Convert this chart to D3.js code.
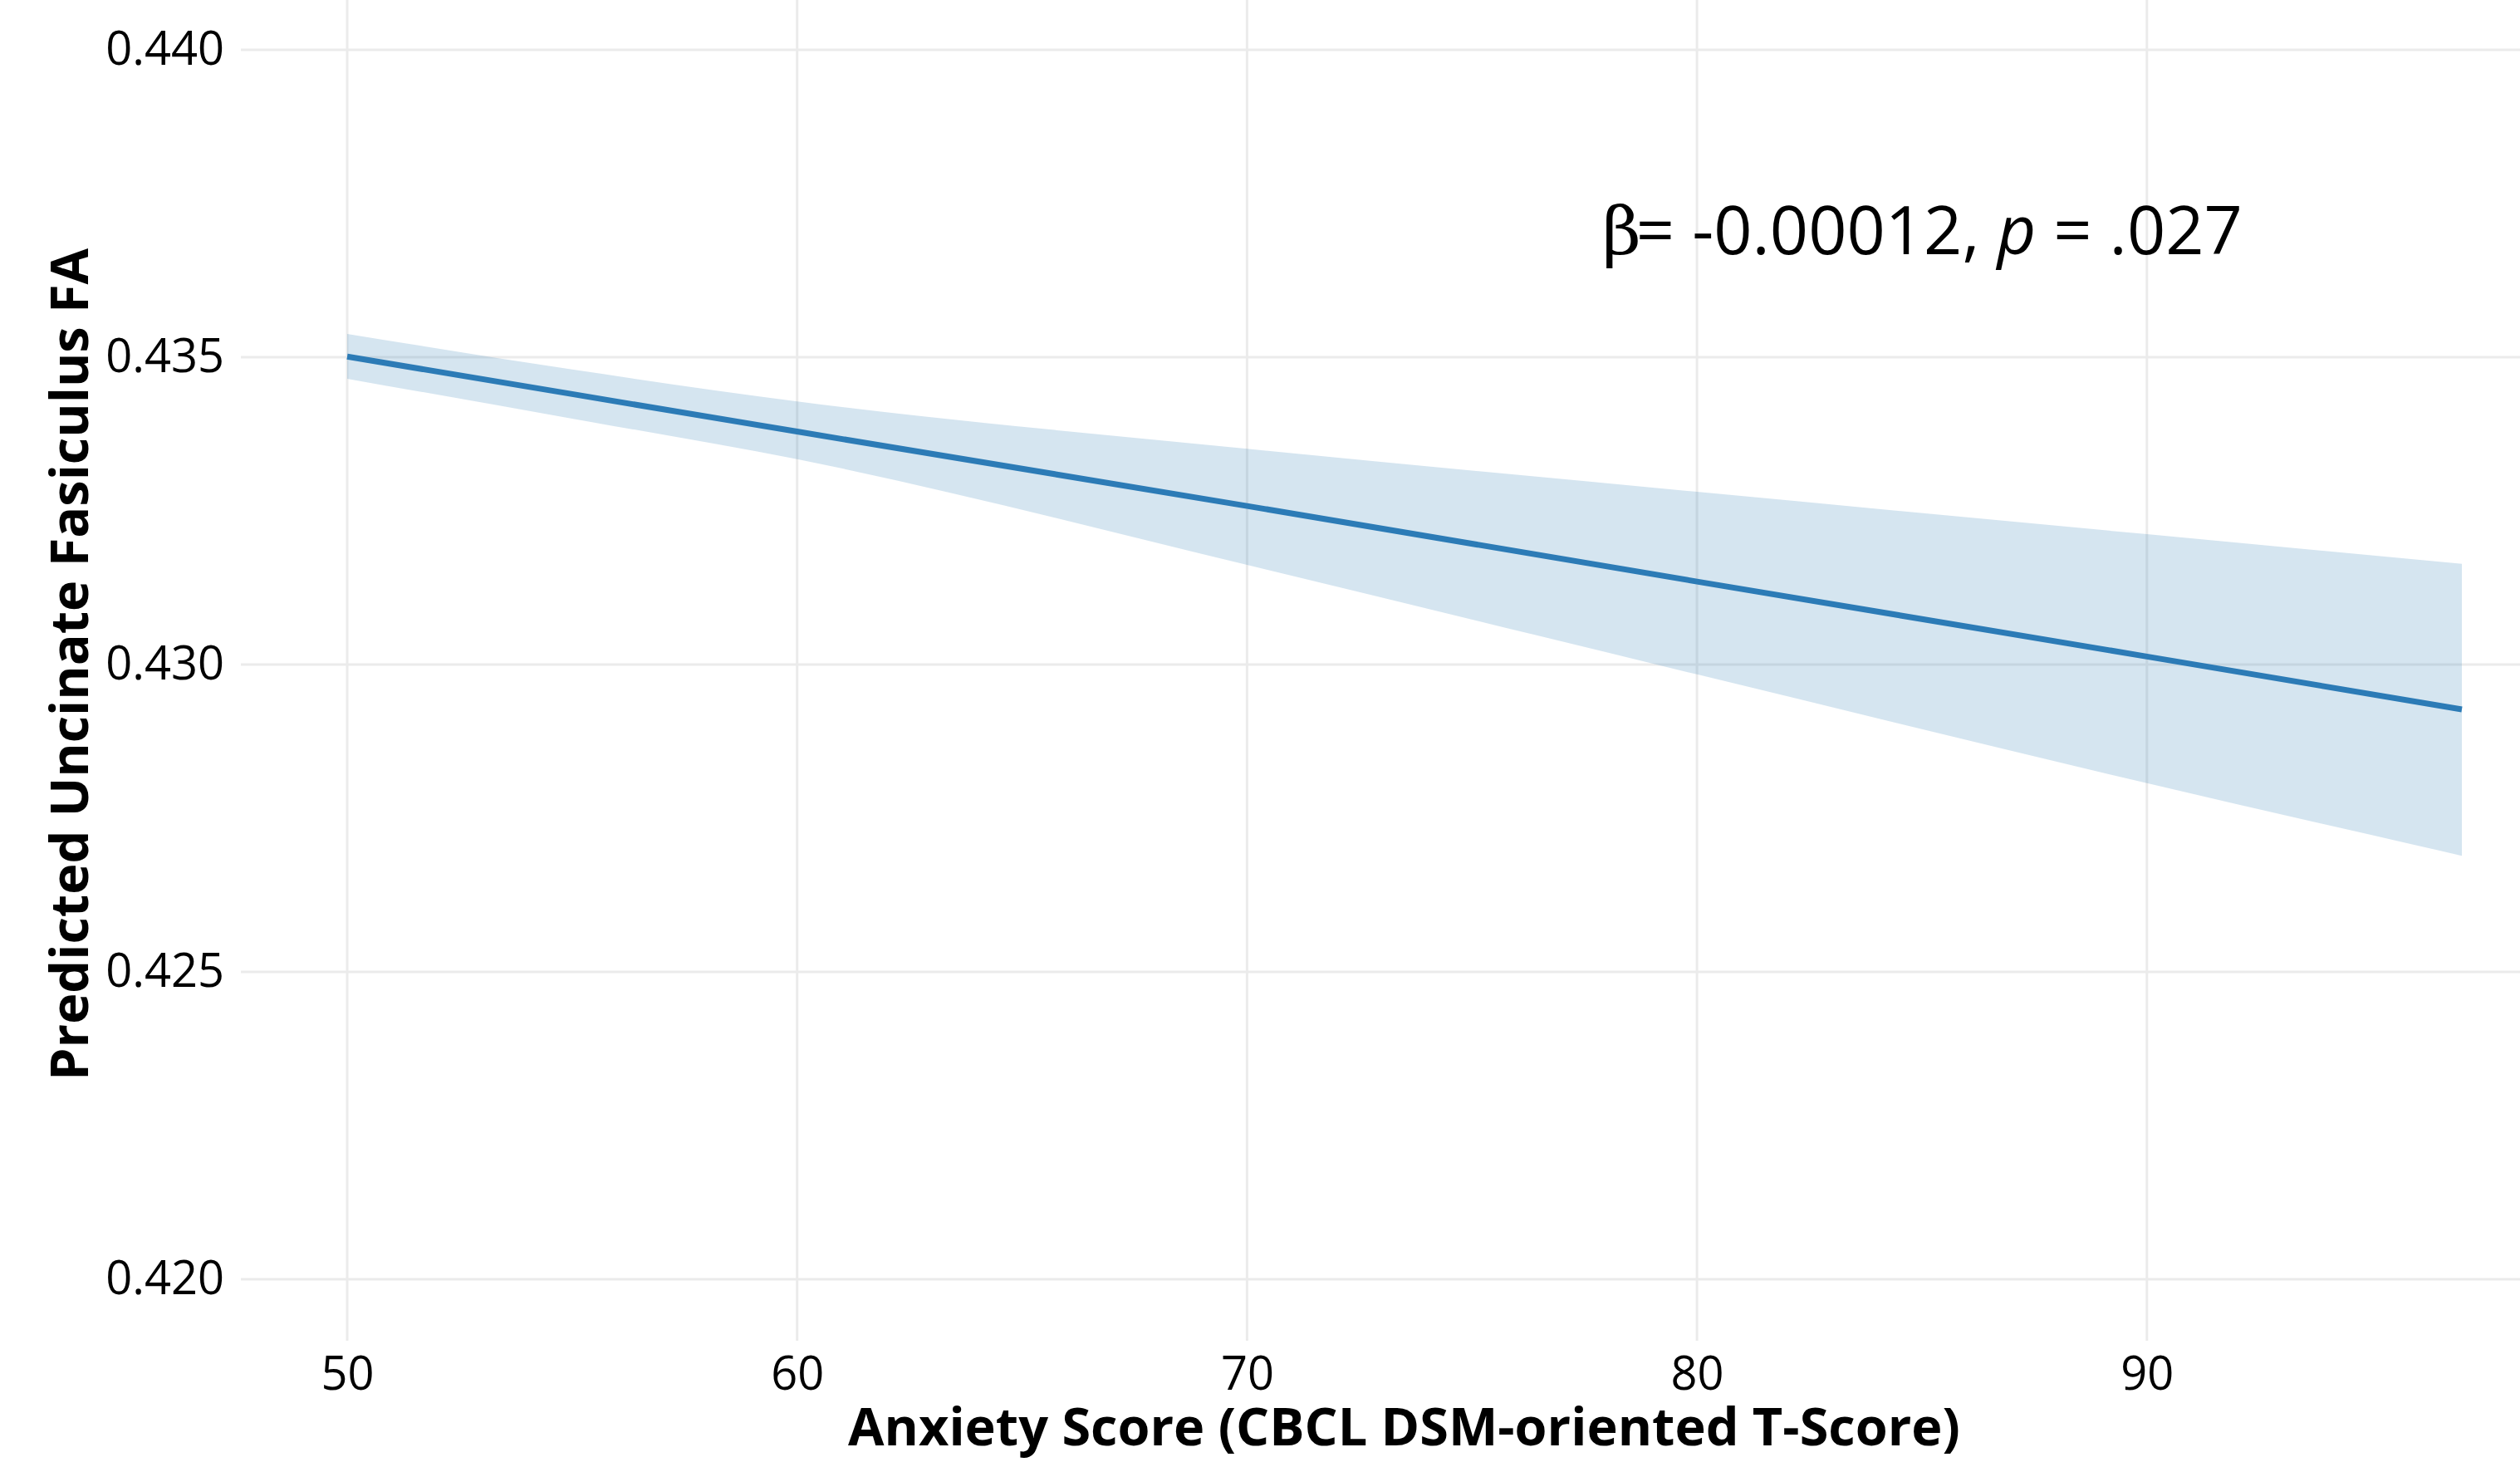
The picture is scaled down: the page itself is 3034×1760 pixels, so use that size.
<!DOCTYPE html>
<html>
<head>
<meta charset="utf-8">
<script src="https://cdn.jsdelivr.net/npm/d3@7"></script>
<style>
  body { margin: 0; background: #fff; }
  text { font-family: "Open Sans", "Noto Sans", sans-serif; fill: #000; }
</style>
</head>
<body>
<svg id="chart"></svg>
<script>
// values
var anxiety   = [50, 55, 60, 70, 80, 90, 97];
var predicted = [0.43501, 0.43440, 0.43379, 0.43258, 0.43135, 0.43013, 0.42927];
var ciUpper   = [0.43538, 0.43480, 0.43428, 0.43351, 0.43281, 0.43212, 0.43164];
var ciLower   = [0.43465, 0.43400, 0.43334, 0.43162, 0.42984, 0.42807, 0.42689];

var xTicks = [50, 60, 70, 80, 90];
var yTicks = [0.420, 0.425, 0.430, 0.435, 0.440];

var width = 3034;
var height = 1760;

var panel = {left: 290, right: 3091, top: -14, bottom: 1614};

var svg = d3.select("#chart")
    .attr("width", width)
    .attr("height", height);

var xScale = d3.scaleLinear()
    .domain([50, 97])
    .range([418, 2964]);

var yScale = d3.scaleLinear()
    .domain([0.420, 0.440])
    .range([1540, 60]);

var data = anxiety.map(function(d, i) {
  return {x: d, y: predicted[i], lo: ciLower[i], hi: ciUpper[i]};
});

// grid lines
var grid = svg.append("g").attr("class", "grid");

grid.selectAll("line.h")
  .data(yTicks)
  .enter()
  .append("line")
    .attr("x1", panel.left)
    .attr("x2", panel.right)
    .attr("y1", function(d) { return yScale(d); })
    .attr("y2", function(d) { return yScale(d); })
    .attr("stroke", "#ebebeb")
    .attr("stroke-width", 3);

grid.selectAll("line.v")
  .data(xTicks)
  .enter()
  .append("line")
    .attr("x1", function(d) { return xScale(d); })
    .attr("x2", function(d) { return xScale(d); })
    .attr("y1", panel.top)
    .attr("y2", panel.bottom)
    .attr("stroke", "#ebebeb")
    .attr("stroke-width", 3);

// confidence ribbon
var area = d3.area()
    .x(function(d) { return xScale(d.x); })
    .y0(function(d) { return yScale(d.lo); })
    .y1(function(d) { return yScale(d.hi); })
    .curve(d3.curveMonotoneX);

svg.append("path")
    .datum(data)
    .attr("d", area)
    .attr("fill", "#2c7bb6")
    .attr("fill-opacity", 0.2);

// fitted line
var line = d3.line()
    .x(function(d) { return xScale(d.x); })
    .y(function(d) { return yScale(d.y); });

svg.append("path")
    .datum(data)
    .attr("d", line)
    .attr("fill", "none")
    .attr("stroke", "#2c7bb6")
    .attr("stroke-width", 7);

// axes (text only, ggplot minimal look)
var xAxis = d3.axisBottom(xScale)
    .tickValues(xTicks)
    .tickSize(0)
    .tickPadding(0)
    .tickFormat(d3.format("d"));

var gx = svg.append("g")
    .attr("transform", "translate(0," + 1630 + ")")
    .call(xAxis);
gx.select(".domain").remove();
gx.selectAll("text")
    .attr("dy", "0.76em")
    .attr("font-size", 56)
    .attr("font-family", "Open Sans")
    .attr("fill", "#000");

var yAxis = d3.axisLeft(yScale)
    .tickValues(yTicks)
    .tickSize(0)
    .tickPadding(0)
    .tickFormat(d3.format(".3f"));

var gy = svg.append("g")
    .attr("transform", "translate(" + 270 + ",0)")
    .call(yAxis);
gy.select(".domain").remove();
gy.selectAll("text")
    .attr("font-size", 56)
    .attr("font-family", "Open Sans")
    .attr("fill", "#000");

// axis titles
svg.append("text")
    .attr("x", (panel.left + panel.right) / 2)
    .attr("y", 1740)
    .attr("text-anchor", "middle")
    .attr("font-size", 63)
    .attr("font-weight", "bold")
    .text("Anxiety Score (CBCL DSM-oriented T-Score)");

svg.append("text")
    .attr("transform", "translate(106," + (panel.top + panel.bottom) / 2 + ") rotate(-90)")
    .attr("text-anchor", "middle")
    .attr("font-size", 63)
    .attr("font-weight", "bold")
    .text("Predicted Uncinate Fasiculus FA");

// annotation
var note = svg.append("text")
    .attr("x", 1929)
    .attr("y", 306)
    .attr("font-size", 81);
note.append("tspan").attr("font-family", "DejaVu Serif").text("β");
note.append("tspan").attr("dx", -6).text("= -0.00012, ");
note.append("tspan").attr("font-style", "italic").text("p");
note.append("tspan").text(" = .027");
</script>
</body>
</html>
